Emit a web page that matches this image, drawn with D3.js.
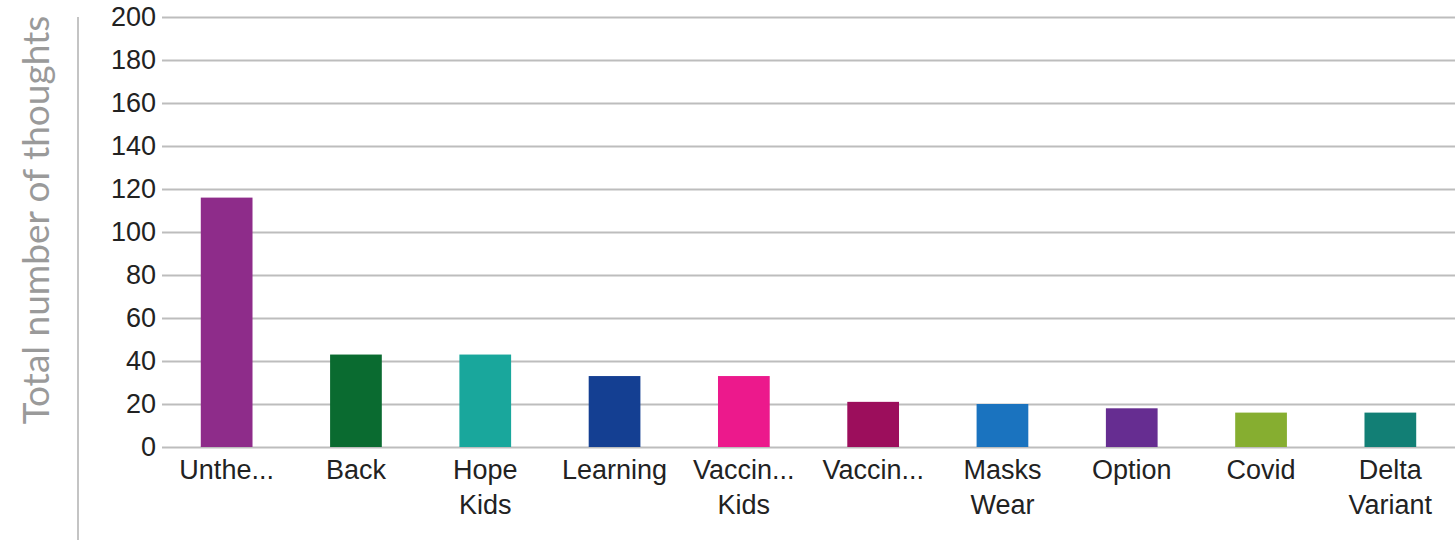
<!DOCTYPE html>
<html>
<head>
<meta charset="UTF-8">
<title>Thoughts</title>
<script src="https://cdnjs.cloudflare.com/ajax/libs/d3/7.8.5/d3.min.js"></script>
<style>
  body { margin: 0; background: #fff; }
  svg { display: block; }
</style>
</head>
<body>
<svg id="chart"></svg>
<script>
var categories = ["Unthe...", "Back", "Hope Kids", "Learning", "Vaccin... Kids",
                  "Vaccin...", "Masks Wear", "Option", "Covid", "Delta Variant"];
var labelLines = [["Unthe..."], ["Back"], ["Hope", "Kids"], ["Learning"], ["Vaccin...", "Kids"],
                  ["Vaccin..."], ["Masks", "Wear"], ["Option"], ["Covid"], ["Delta", "Variant"]];
var values = [116, 43, 43, 33, 33, 21, 20, 18, 16, 16];
var colors = ["#8e2c8a", "#0a6b30", "#19a79c", "#143f92", "#ec198c",
              "#9c0e5c", "#1a73bf", "#662d91", "#86ae30", "#127f75"];
var yTicks = [0, 20, 40, 60, 80, 100, 120, 140, 160, 180, 200];

var svgWidth = 1455, svgHeight = 540;
var plotLeft = 162, plotTop = 17, plotBottom = 447;

var svg = d3.select("#chart")
    .attr("width", svgWidth)
    .attr("height", svgHeight);

var x = d3.scaleBand()
    .domain(categories)
    .range([plotLeft, svgWidth])
    .paddingInner(0.6)
    .paddingOuter(0.3);

var y = d3.scaleLinear()
    .domain([0, 200])
    .range([plotBottom, plotTop]);

// axis title and separator
svg.append("line")
    .attr("x1", 78).attr("x2", 78)
    .attr("y1", 17).attr("y2", svgHeight)
    .attr("stroke", "#c4c4c4")
    .attr("stroke-width", 2);

svg.append("text")
    .attr("transform", "translate(49,220) rotate(-90)")
    .attr("text-anchor", "middle")
    .attr("fill", "#9a9a9a")
    .style("font-family", "Lato, 'Open Sans', sans-serif")
    .style("font-size", "37px")
    .text("Total number of thoughts");

// gridlines + tick labels
var yAxis = svg.append("g")
    .attr("class", "axis y")
    .attr("transform", "translate(" + plotLeft + ",0)")
    .call(d3.axisLeft(y).tickValues(yTicks).tickSize(-(svgWidth - plotLeft)).tickPadding(6));

yAxis.select(".domain").remove();
yAxis.selectAll(".tick line")
    .attr("stroke", "#bdbdbd")
    .attr("stroke-width", 2);
yAxis.selectAll(".tick text")
    .attr("fill", "#222")
    .style("font-family", "'Liberation Sans', Arial, sans-serif")
    .style("font-size", "27px");

// bars
svg.append("g")
    .selectAll("rect")
    .data(values)
    .join("rect")
    .attr("x", function (d, i) { return x(categories[i]) })
    .attr("y", function (d) { return y(d) })
    .attr("width", x.bandwidth())
    .attr("height", function (d) { return plotBottom - y(d) })
    .attr("fill", function (d, i) { return colors[i] });

// category labels
var labels = svg.append("g")
    .selectAll("text")
    .data(categories)
    .join("text")
    .attr("text-anchor", "middle")
    .attr("fill", "#222")
    .style("font-family", "'Liberation Sans', Arial, sans-serif")
    .style("font-size", "27px");

labels.each(function (c, i) {
    var cx = x(c) + x.bandwidth() / 2;
    d3.select(this).selectAll("tspan")
        .data(labelLines[i])
        .join("tspan")
        .attr("x", cx)
        .attr("y", function (l, j) { return 479 + j * 35 })
        .text(function (l) { return l });
});
</script>
</body>
</html>
